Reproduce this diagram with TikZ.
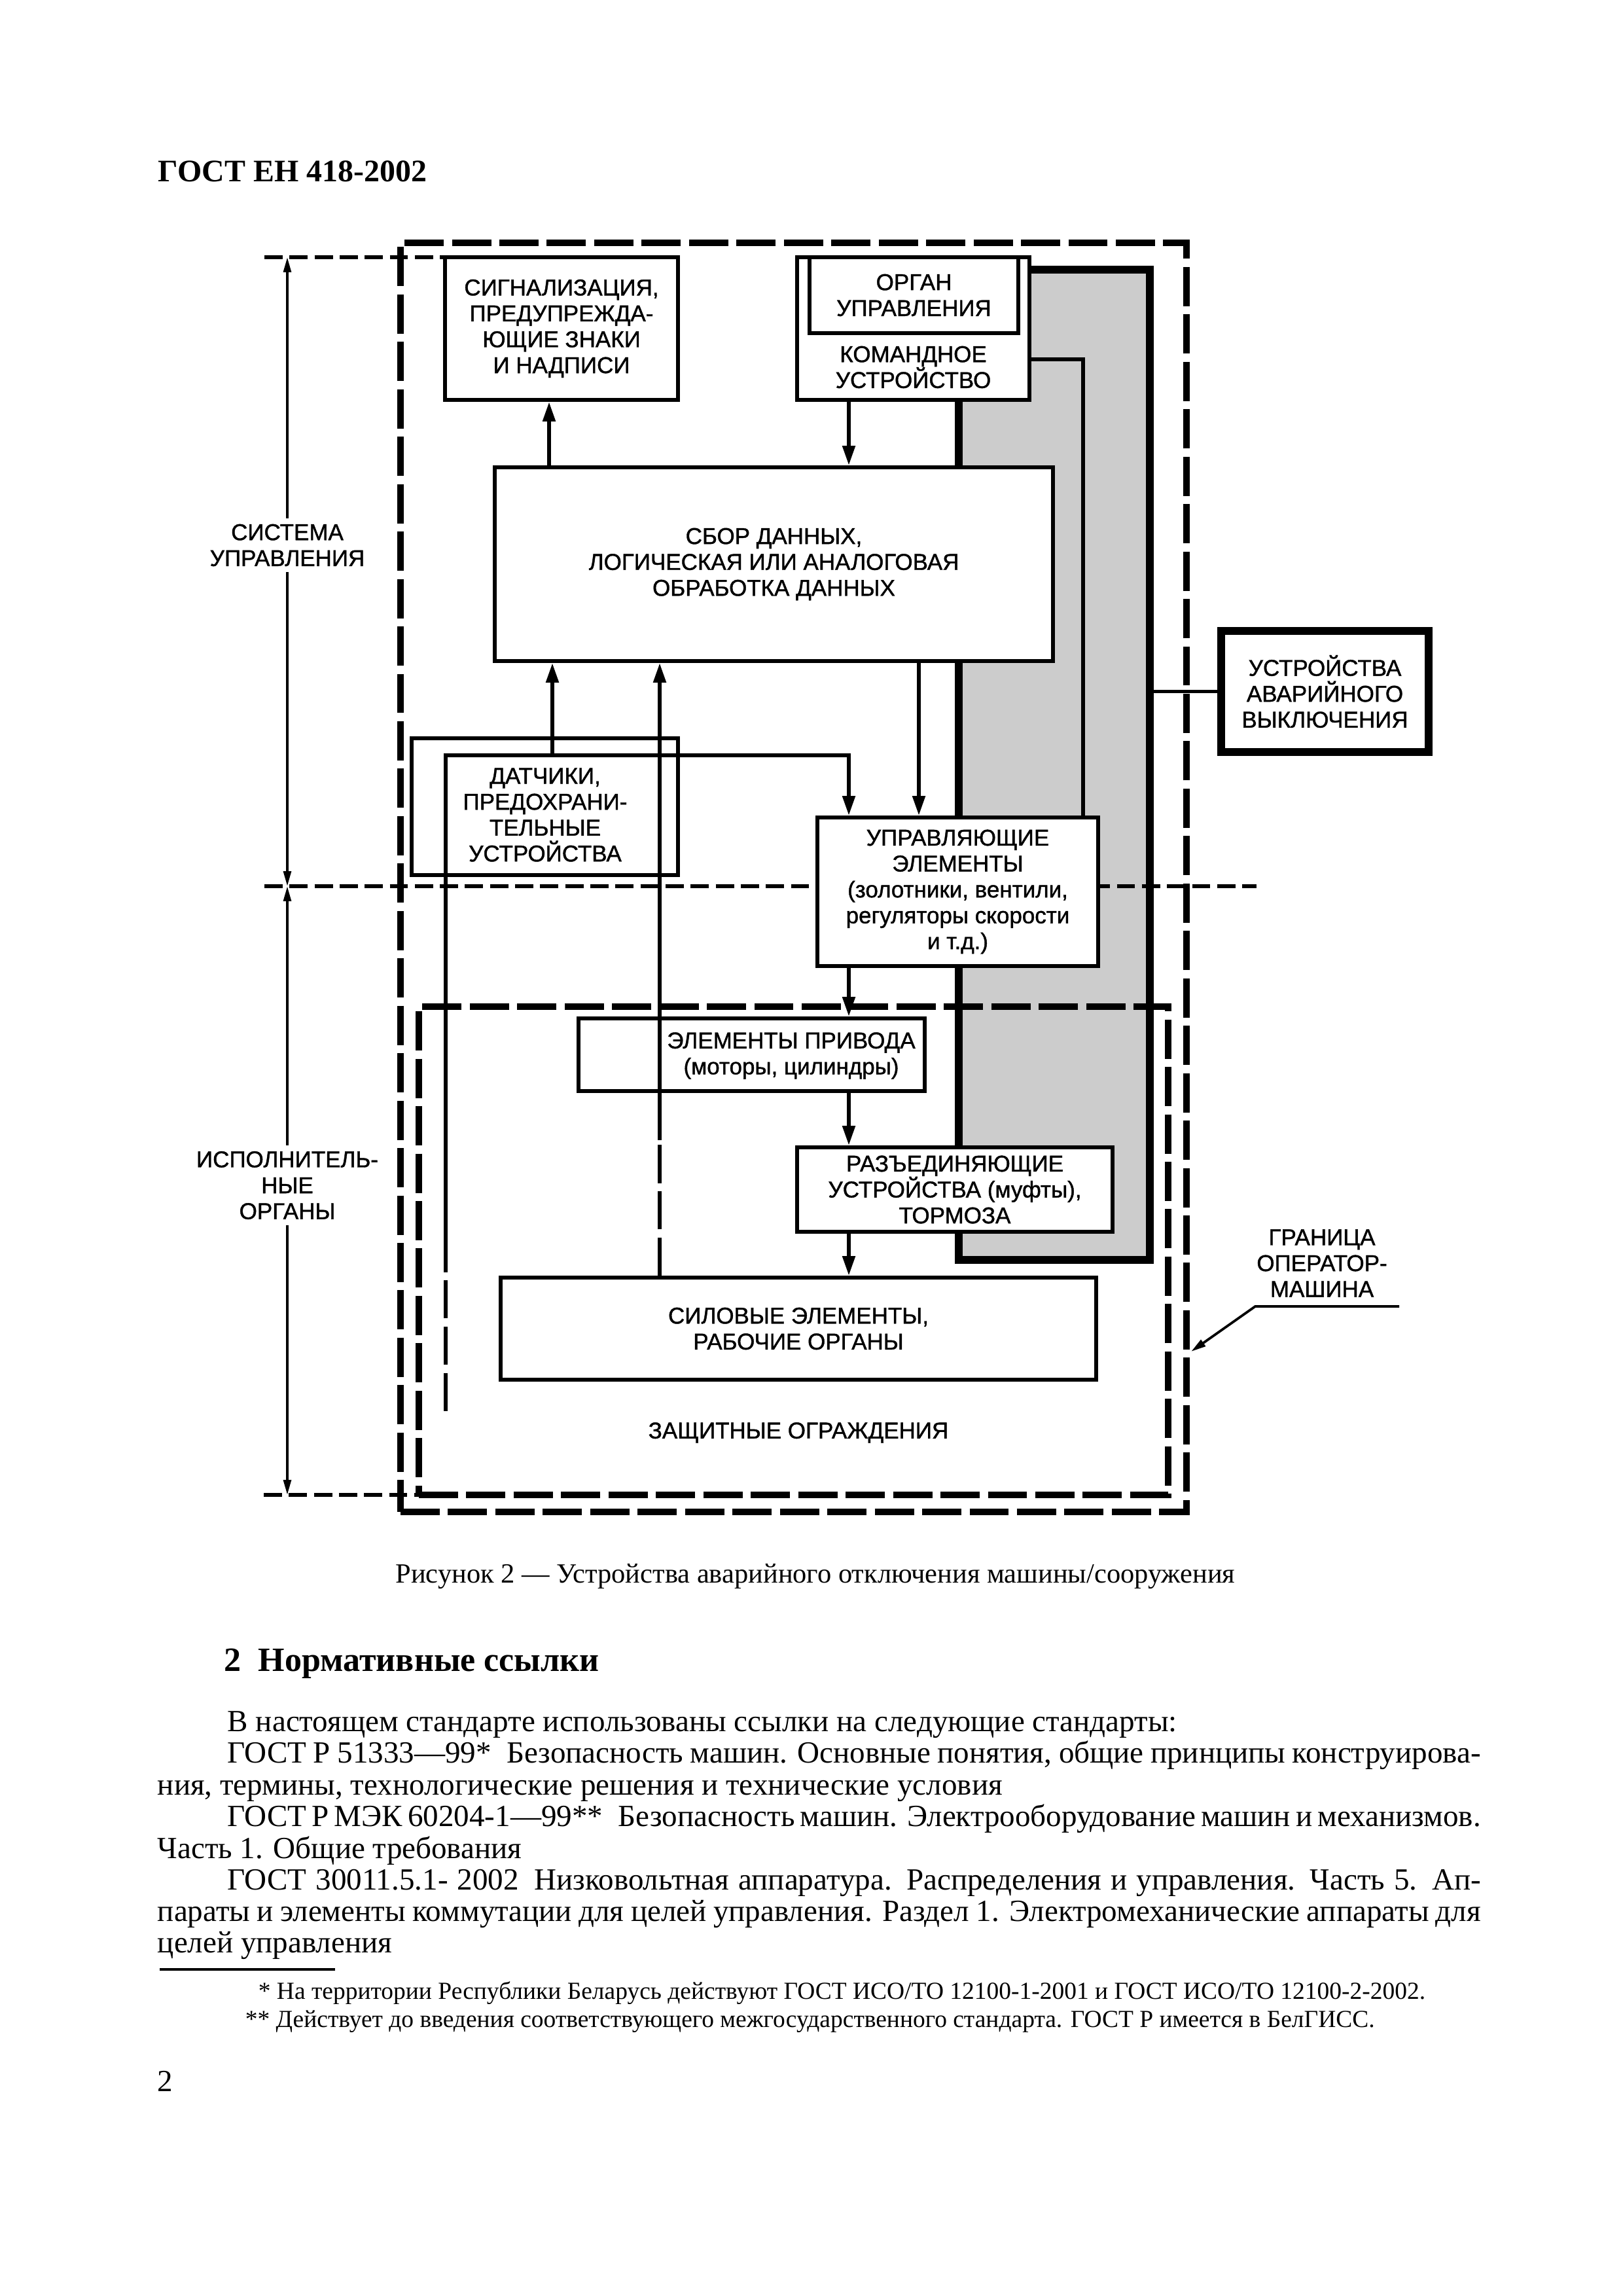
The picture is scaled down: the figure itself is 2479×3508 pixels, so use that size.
\documentclass[tikz,border=0pt]{standalone}
\usepackage{fontspec}
\setmainfont{Liberation Serif}
\newfontfamily\dfont[FakeBold=1.2]{Liberation Sans}
\usetikzlibrary{arrows.meta}
\definecolor{panelgray}{RGB}{204,204,204}
\newcommand\pxu{0.24014pt}
\begin{document}
\begin{tikzpicture}[x=0.24014pt, y=-0.24014pt,
  dtext/.style={font=\dfont\fontsize{8.4}{9.5}\selectfont, align=center, inner sep=0pt},
  wh/.style 2 args={minimum width=#1*\pxu, minimum height=#2*\pxu},
  blk/.style={draw, line width=1.4pt, fill=white, dtext},
  lbl/.style={dtext, inner sep=2pt},
  panel/.style={draw, line width=2.8pt, fill=panelgray},
  bigframe/.style={draw, line width=2.6pt, dash pattern=on 14.4pt off 3pt},
  dimdash/.style={line width=1.5pt, dash pattern=on 6.7pt off 2.5pt},
  conn/.style={line width=1.4pt},
  arr/.style={conn, -{Triangle[length=7.2pt,width=4.5pt]}},
  dconn/.style={conn, dash pattern=on 14pt off 3pt},
  dimarr/.style={line width=0.9pt, -{Triangle[length=5.5pt,width=2.8pt]}},
  body/.style={inner sep=0pt, anchor=base west, font=\fontsize{11.3}{13}\selectfont}
]
\useasboundingbox (0,0) rectangle (2479,3508);

% gray panel and frames
\node[panel, wh={292}{1513}] (panel) at (1611,1168.5) {};
\node[bigframe, wh={1201}{1939}] (outer) at (1212.5,1340.5) {};
\node[bigframe, wh={1145}{746}] (inner) at (1212.5,1911) {};

% dimension dashed lines
\coordinate (d1) at (404,393);
\coordinate (d1e) at (680,393);
\coordinate (d2) at (404,1354);
\coordinate (d2e) at (1920,1354);
\coordinate (d3) at (403,2284);
\coordinate (d3e) at (640,2284);
\draw[dimdash] (d1) -- (d1e);
\draw[dimdash] (d2) -- (d2e);
\draw[dimdash] (d3) -- (d3e);

% boxes
\node[blk, wh={356}{218}] (sig) at (858,502) {СИГНАЛИЗАЦИЯ,\\ПРЕДУПРЕЖДА-\\ЮЩИЕ ЗНАКИ\\И НАДПИСИ};
\node[blk, wh={355}{218}] (cmd) at (1395.5,502) {};
\node[blk, wh={319}{116}] (organ) at (1396.5,451) {ОРГАН\\УПРАВЛЕНИЯ};
\node[lbl] (cmdl) at (1395.5,561) {КОМАНДНОЕ\\УСТРОЙСТВО};
\node[blk, wh={853}{296}] (sbor) at (1182.5,862) {СБОР ДАННЫХ,\\ЛОГИЧЕСКАЯ ИЛИ АНАЛОГОВАЯ\\ОБРАБОТКА ДАННЫХ};
\node[blk, line width=2.7pt, wh={317}{185}] (emerg) at (2024.5,1056.5) {УСТРОЙСТВА\\АВАРИЙНОГО\\ВЫКЛЮЧЕНИЯ};
\node[blk, wh={407}{209}] (dat) at (832.5,1232.5) {};
\node[lbl] (datl) at (833,1245) {ДАТЧИКИ,\\ПРЕДОХРАНИ-\\ТЕЛЬНЫЕ\\УСТРОЙСТВА};
\node[blk, wh={429}{227}] (ctrl) at (1463.5,1362.5) {УПРАВЛЯЮЩИЕ\\ЭЛЕМЕНТЫ\\(золотники, вентили,\\регуляторы скорости\\и т.д.)};
\node[blk, wh={529}{111}] (priv) at (1148.5,1611.5) {};
\node[lbl] (privl) at (1209,1613) {ЭЛЕМЕНТЫ ПРИВОДА\\(моторы, цилиндры)};
\node[blk, wh={482}{129}] (raz) at (1459,1817.5) {РАЗЪЕДИНЯЮЩИЕ\\УСТРОЙСТВА (муфты),\\ТОРМОЗА};
\node[blk, wh={910}{156}] (sil) at (1220,2030) {СИЛОВЫЕ ЭЛЕМЕНТЫ,\\РАБОЧИЕ ОРГАНЫ};

% side labels
\node[lbl] (sysl) at (439,833) {СИСТЕМА\\УПРАВЛЕНИЯ};
\node[lbl] (ispl) at (439,1811) {ИСПОЛНИТЕЛЬ-\\НЫЕ\\ОРГАНЫ};
\node[lbl] (granl) at (2020,1930) {ГРАНИЦА\\ОПЕРАТОР-\\МАШИНА};
\node[lbl] (zashl) at (1220,2189) {ЗАЩИТНЫЕ ОГРАЖДЕНИЯ};

% column coordinates
\coordinate (cx1) at (839,0);
\coordinate (cx2) at (1297,0);
\coordinate (cx3) at (1404,0);
\coordinate (cx4) at (844,0);
\coordinate (cx5) at (1008,0);
\coordinate (cx7) at (1655,0);
\coordinate (fy) at (0,1154);
\coordinate (cy1) at (0,549);
\coordinate (fb0) at (681,2156);
\coordinate (fb1) at (681,1910);
\coordinate (s1) at (1008,1742);

% connectors
\draw[arr] (cx1 |- sbor.north) -- (cx1 |- sig.south);
\draw[arr] (cx2 |- cmd.south) -- (cx2 |- sbor.north);
\draw[arr] (cx3 |- sbor.south) -- (cx3 |- ctrl.north);
\draw[arr] (fb1) |- (cx2 |- fy) -- (cx2 |- ctrl.north);
\draw[dconn] (fb0) -- (fb1);
\draw[arr] (cx4 |- fy) -- (cx4 |- sbor.south);
\draw[arr] (s1) -- (cx5 |- sbor.south);
\draw[dconn] (cx5 |- sil.north) -- (s1);
\draw[arr] (cx2 |- ctrl.south) -- (cx2 |- priv.north);
\draw[arr] (cx2 |- priv.south) -- (cx2 |- raz.north);
\draw[arr] (cx2 |- raz.south) -- (cx2 |- sil.north);
\draw[conn] (cmd.east |- cy1) -| (cx7 |- ctrl.north);
\draw[conn] (panel.east |- emerg.west) -- (emerg.west);

% dimension arrows
\draw[dimarr] (sysl.north) -- (sysl.north |- d1);
\draw[dimarr] (sysl.south) -- (sysl.south |- d2);
\draw[dimarr] (ispl.north) -- (ispl.north |- d2);
\draw[dimarr] (ispl.south) -- (ispl.south |- d3);

% leader
\coordinate (g1) at (2138,1996);
\coordinate (g2) at (1918,1996);
\coordinate (g3) at (1820,2065);
\draw[dimarr] (g1) -- (g2) -- (g3);

% page text
\node[body, font=\bfseries\fontsize{11.5}{13}\selectfont] (hdr) at (241,278) {ГОСТ ЕН 418-2002};
\node[inner sep=0pt, anchor=base, font=\fontsize{10.2}{12}\selectfont] (cap) at (1246,2418) {Рисунок 2 — Устройства аварийного отключения машины/сооружения};
\node[body, font=\bfseries\fontsize{12.5}{14}\selectfont] (sec) at (342,2553) {2\enspace Нормативные ссылки};
\node[body] (p1) at (347,2645) {В настоящем стандарте использованы ссылки на следующие стандарты:};
\node[body] (p2) at (347,2693) {\makebox[459.9pt][s]{ГОСТ Р 51333—99*\enspace Безопасность машин. Основные понятия, общие принципы конструирова-}};
\node[body] (p3) at (240,2742) {ния, термины, технологические решения и технические условия};
\node[body] (p4) at (347,2790) {\makebox[459.9pt][s]{ГОСТ Р МЭК 60204-1—99**\enspace Безопасность машин. Электрооборудование машин и механизмов.}};
\node[body] (p5) at (240,2839) {Часть 1. Общие требования};
\node[body] (p6) at (347,2887) {\makebox[459.9pt][s]{ГОСТ 30011.5.1- 2002\enspace Низковольтная аппаратура. Распределения и управления. Часть 5. Ап-}};
\node[body] (p7) at (240,2935) {\makebox[485.6pt][s]{параты и элементы коммутации для целей управления. Раздел 1. Электромеханические аппараты для}};
\node[body] (p8) at (240,2983) {целей управления};
\coordinate (fr1) at (244,3009);
\coordinate (fr2) at (512,3009);
\draw[line width=1pt] (fr1) -- (fr2);
\node[body, font=\fontsize{9}{11}\selectfont] (f1) at (394,3054) {* На территории Республики Беларусь действуют ГОСТ ИСО/ТО 12100-1-2001 и ГОСТ ИСО/ТО 12100-2-2002.};
\node[body, font=\fontsize{9}{11}\selectfont] (f2) at (374,3097) {** Действует до введения соответствующего межгосударственного стандарта. ГОСТ Р имеется в БелГИСС.};
\node[body] (pn) at (240,3195) {2};
\end{tikzpicture}
\end{document}
